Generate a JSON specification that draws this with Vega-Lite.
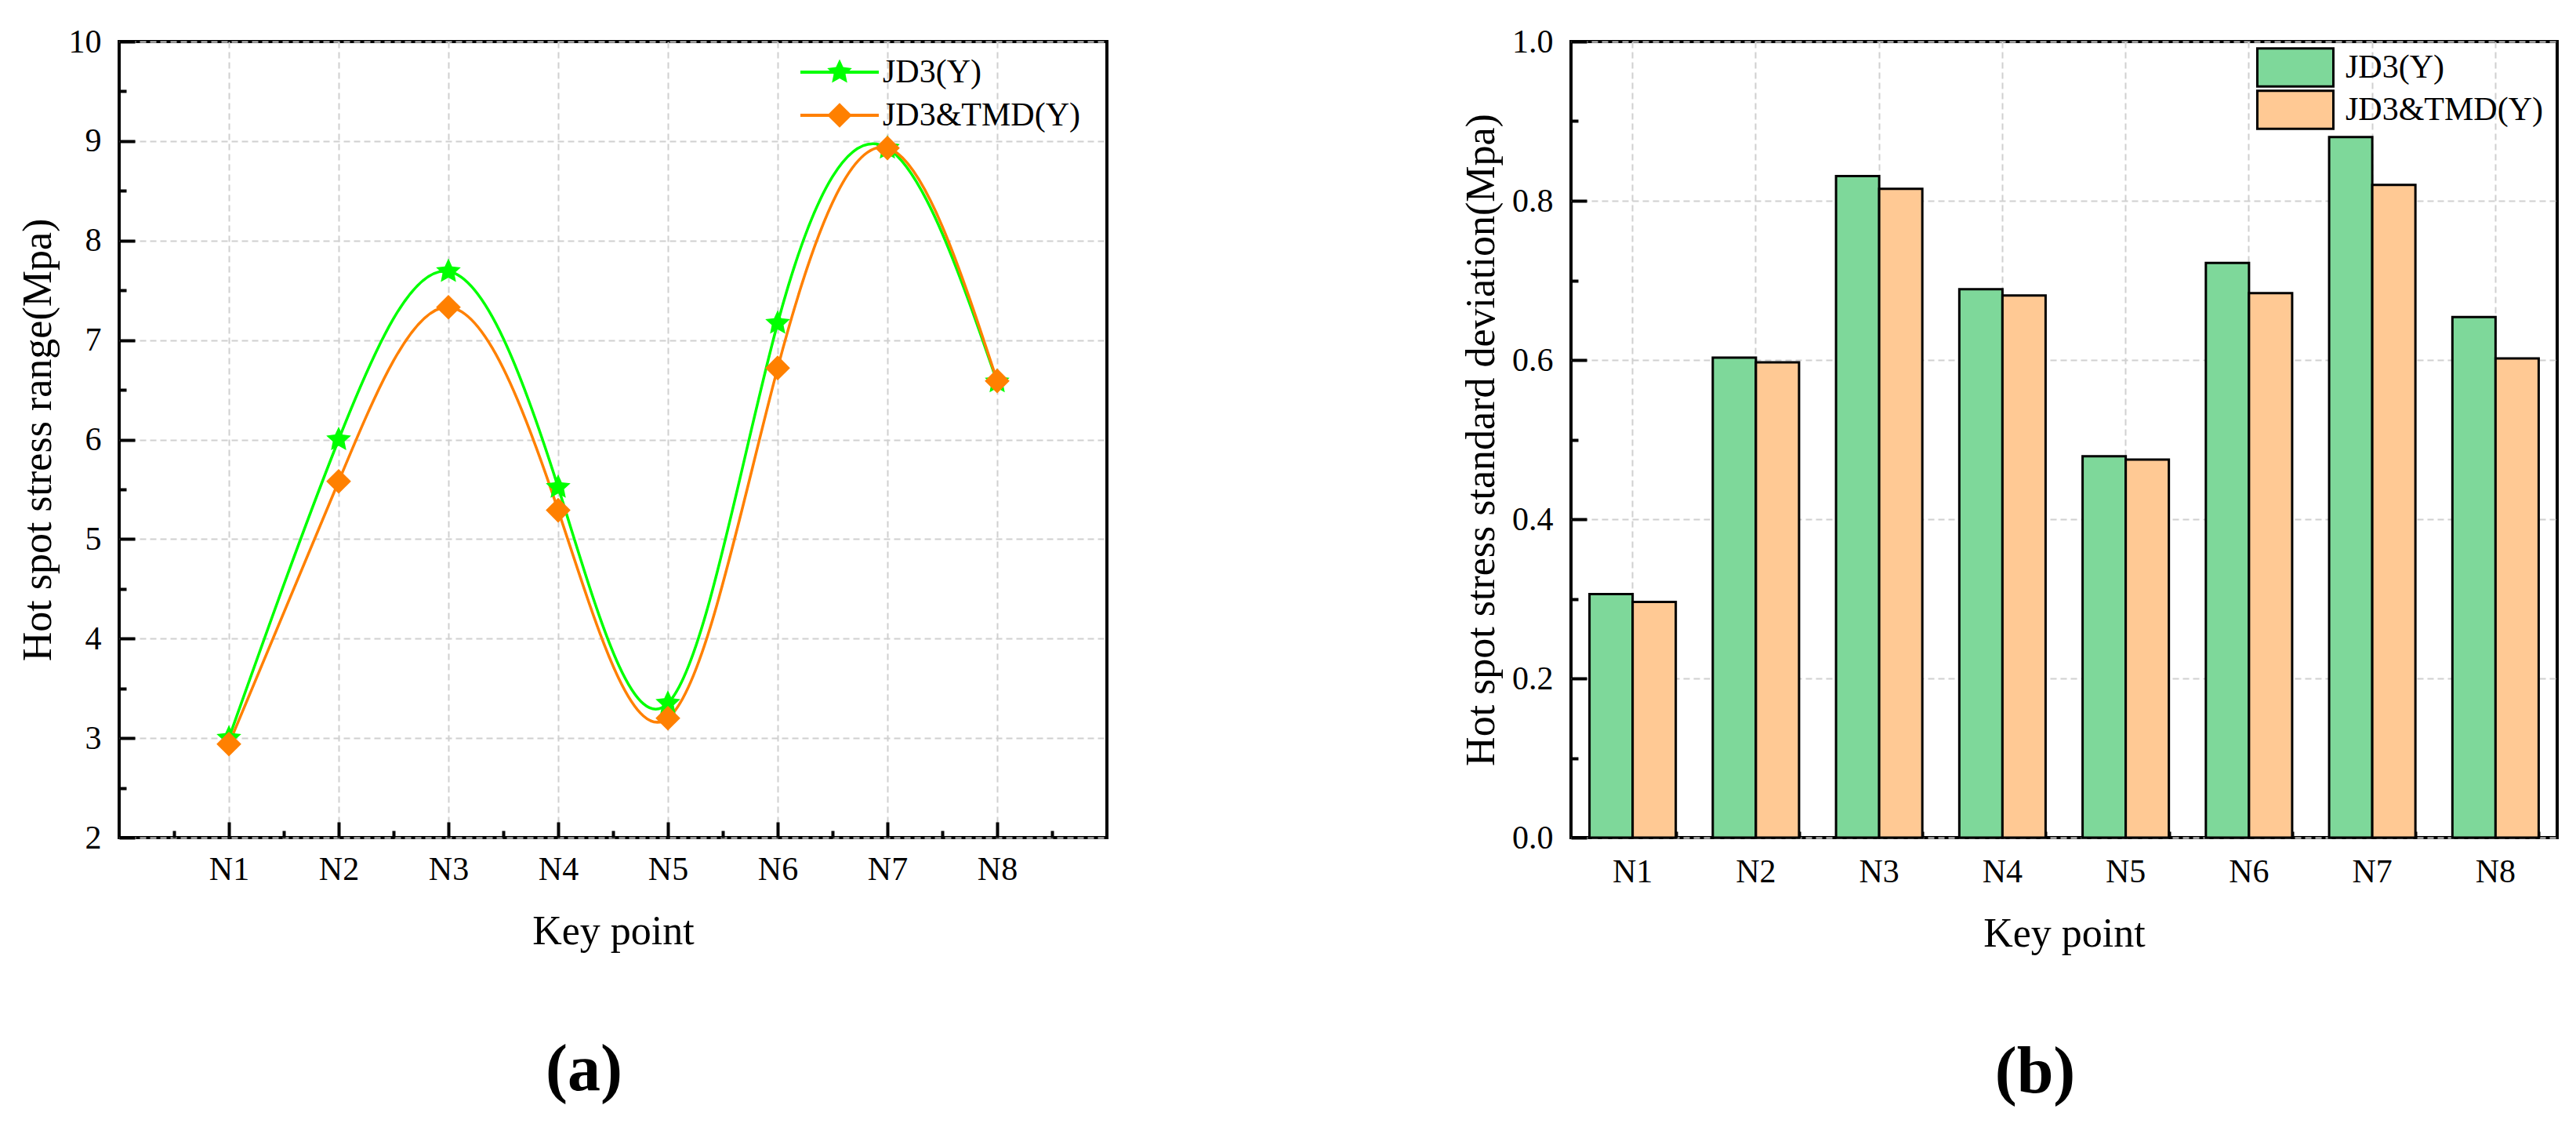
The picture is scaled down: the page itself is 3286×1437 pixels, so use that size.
{
  "$schema": "https://vega.github.io/schema/vega-lite/v6.json",
  "background": "white",
  "padding": {"left": 20, "top": 30, "right": 0, "bottom": 0},
  "spacing": 447,
  "resolve": {
    "scale": {"fill": "independent", "stroke": "independent", "shape": "independent", "y": "independent", "x": "independent"},
    "legend": {"fill": "independent", "stroke": "independent", "shape": "independent"}
  },
  "config": {
    "font": "Liberation Serif",
    "view": {"stroke": "black", "strokeWidth": 4},
    "axis": {
      "labelFont": "Liberation Serif", "titleFont": "Liberation Serif",
      "labelFontSize": 42, "titleFontSize": 52, "titleFontWeight": "normal",
      "labelColor": "black", "titleColor": "black", "domain": false,
      "tickColor": "black", "tickWidth": 4, "labelFlush": false,
      "gridColor": "#d0d0d0", "gridDash": [8, 5], "gridWidth": 2
    },
    "legend": {"labelFont": "Liberation Serif", "labelFontSize": 42, "labelColor": "black", "labelLimit": 0},
    "title": {"font": "Liberation Serif", "color": "black"}
  },
  "hconcat": [
    {
      "width": 1260,
      "height": 1015,
      "title": {"text": "(a)", "orient": "bottom", "anchor": "middle", "fontSize": 84, "fontWeight": "bold", "dx": -37, "offset": 111},
      "data": {
        "values": [
          {"idx": 1, "point": "N1", "series": "JD3(Y)", "order": 1, "value": 3.0},
          {"idx": 2, "point": "N2", "series": "JD3(Y)", "order": 1, "value": 6.0},
          {"idx": 3, "point": "N3", "series": "JD3(Y)", "order": 1, "value": 7.69},
          {"idx": 4, "point": "N4", "series": "JD3(Y)", "order": 1, "value": 5.52},
          {"idx": 5, "point": "N5", "series": "JD3(Y)", "order": 1, "value": 3.35},
          {"idx": 6, "point": "N6", "series": "JD3(Y)", "order": 1, "value": 7.17},
          {"idx": 7, "point": "N7", "series": "JD3(Y)", "order": 1, "value": 8.93},
          {"idx": 8, "point": "N8", "series": "JD3(Y)", "order": 1, "value": 6.58},
          {"idx": 1, "point": "N1", "series": "JD3&TMD(Y)", "order": 2, "value": 2.94},
          {"idx": 2, "point": "N2", "series": "JD3&TMD(Y)", "order": 2, "value": 5.58},
          {"idx": 3, "point": "N3", "series": "JD3&TMD(Y)", "order": 2, "value": 7.33},
          {"idx": 4, "point": "N4", "series": "JD3&TMD(Y)", "order": 2, "value": 5.29},
          {"idx": 5, "point": "N5", "series": "JD3&TMD(Y)", "order": 2, "value": 3.2},
          {"idx": 6, "point": "N6", "series": "JD3&TMD(Y)", "order": 2, "value": 6.72},
          {"idx": 7, "point": "N7", "series": "JD3&TMD(Y)", "order": 2, "value": 8.93},
          {"idx": 8, "point": "N8", "series": "JD3&TMD(Y)", "order": 2, "value": 6.59}
        ]
      },
      "layer": [
        {
          "mark": {"type": "line", "interpolate": "natural", "strokeWidth": 3.5},
          "encoding": {
            "x": {
              "field": "idx", "type": "quantitative",
              "scale": {"domain": [0, 9], "nice": false, "zero": false},
              "axis": {"orient": "bottom", "values": [1, 2, 3, 4, 5, 6, 7, 8], "labelExpr": "'N' + datum.value", "title": "Key point", "tickSize": -20, "labelPadding": 40, "titlePadding": 33, "grid": true}
            },
            "y": {
              "field": "value", "type": "quantitative",
              "scale": {"domain": [2, 10], "nice": false, "zero": false},
              "axis": {"orient": "left", "values": [2, 3, 4, 5, 6, 7, 8, 9, 10], "title": "Hot spot stress range(Mpa)", "tickSize": -20, "labelPadding": 43, "titlePadding": 12, "grid": true}
            },
            "stroke": {
              "field": "series", "type": "nominal",
              "scale": {"domain": ["JD3(Y)", "JD3&TMD(Y)"], "range": ["#00FF00", "#FF8000"]},
              "legend": {"orient": "none", "direction": "vertical", "legendX": 867, "legendY": 14, "title": null, "symbolType": "M-1,0H1", "symbolSize": 10000, "symbolStrokeWidth": 4, "clipHeight": 50, "rowPadding": 5, "labelExpr": "''"}
            }
          }
        },
        {
          "mark": {"type": "point", "filled": true, "size": 1000, "opacity": 1, "strokeWidth": 0},
          "encoding": {
            "x": {
              "field": "idx", "type": "quantitative",
              "scale": {"domain": [0, 9], "nice": false, "zero": false},
              "axis": {"orient": "bottom", "values": [0.5, 1.5, 2.5, 3.5, 4.5, 5.5, 6.5, 7.5, 8.5], "labels": false, "title": null, "tickSize": -9, "grid": false}
            },
            "y": {
              "field": "value", "type": "quantitative",
              "scale": {"domain": [2, 10], "nice": false, "zero": false},
              "axis": {"orient": "left", "values": [2.5, 3.5, 4.5, 5.5, 6.5, 7.5, 8.5, 9.5], "labels": false, "title": null, "tickSize": -9, "grid": false}
            },
            "fill": {
              "field": "series", "type": "nominal", "sort": {"field": "order", "op": "min"},
              "scale": {"range": ["#00FF00", "#FF8000"]},
              "legend": {"orient": "none", "direction": "vertical", "legendX": 867, "legendY": 14, "title": null, "symbolSize": 1000, "clipHeight": 50, "rowPadding": 5, "symbolOffset": 31, "labelOffset": 34}
            },
            "shape": {
              "field": "series", "type": "nominal", "sort": {"field": "order", "op": "min"},
              "scale": {"range": ["M0,-1.05L0.294,-0.405L0.999,-0.324L0.476,0.155L0.617,0.849L0,0.5L-0.617,0.849L-0.476,0.155L-0.999,-0.324L-0.294,-0.405Z", "diamond"]},
              "legend": {"orient": "none", "direction": "vertical", "legendX": 867, "legendY": 14, "title": null, "symbolSize": 1000, "clipHeight": 50, "rowPadding": 5, "symbolOffset": 31, "labelOffset": 34}
            }
          }
        }
      ],
      "resolve": {"axis": {"x": "independent", "y": "independent"}}
    },
    {
      "width": 1258,
      "height": 1015,
      "title": {"text": "(b)", "orient": "bottom", "anchor": "middle", "fontSize": 84, "fontWeight": "bold", "dx": -37, "offset": 111},
      "data": {
        "values": [
          {"point": "N1", "series": "JD3(Y)", "value": 0.306},
          {"point": "N2", "series": "JD3(Y)", "value": 0.603},
          {"point": "N3", "series": "JD3(Y)", "value": 0.831},
          {"point": "N4", "series": "JD3(Y)", "value": 0.689},
          {"point": "N5", "series": "JD3(Y)", "value": 0.479},
          {"point": "N6", "series": "JD3(Y)", "value": 0.722},
          {"point": "N7", "series": "JD3(Y)", "value": 0.880},
          {"point": "N8", "series": "JD3(Y)", "value": 0.654},
          {"point": "N1", "series": "JD3&TMD(Y)", "value": 0.296},
          {"point": "N2", "series": "JD3&TMD(Y)", "value": 0.597},
          {"point": "N3", "series": "JD3&TMD(Y)", "value": 0.815},
          {"point": "N4", "series": "JD3&TMD(Y)", "value": 0.681},
          {"point": "N5", "series": "JD3&TMD(Y)", "value": 0.475},
          {"point": "N6", "series": "JD3&TMD(Y)", "value": 0.684},
          {"point": "N7", "series": "JD3&TMD(Y)", "value": 0.820},
          {"point": "N8", "series": "JD3&TMD(Y)", "value": 0.602}
        ]
      },
      "layer": [
        {
          "transform": [{"filter": "datum.series === 'JD3(Y)'"}],
          "mark": {"type": "bar", "stroke": "black", "strokeWidth": 3},
          "encoding": {
            "x": {
              "field": "point", "type": "nominal",
              "scale": {"paddingInner": 0.3, "paddingOuter": 0.15},
              "axis": {"orient": "bottom", "labelAngle": 0, "title": "Key point", "tickSize": -17, "labelPadding": 40, "titlePadding": 33, "grid": true}
            },
            "xOffset": {"field": "series", "type": "nominal", "scale": {"domain": ["JD3(Y)", "JD3&TMD(Y)"], "paddingInner": 0, "paddingOuter": 0}},
            "y": {
              "field": "value", "type": "quantitative",
              "scale": {"domain": [0, 1], "nice": false, "zero": true},
              "axis": {"orient": "left", "values": [0, 0.2, 0.4, 0.6, 0.8, 1.0], "format": ".1f", "title": "Hot spot stress standard deviation(Mpa)", "tickSize": -20, "labelPadding": 43, "titlePadding": 12, "grid": true}
            },
            "fill": {
              "field": "series", "type": "nominal",
              "scale": {"domain": ["JD3(Y)", "JD3&TMD(Y)"], "range": ["#7ED89A", "#FFC994"]},
              "legend": {"orient": "none", "direction": "vertical", "legendX": 874, "legendY": 7, "title": null, "symbolType": "M-1,-0.5H1V0.5H-1Z", "symbolSize": 9409, "symbolStrokeColor": "black", "symbolStrokeWidth": 3, "clipHeight": 52, "rowPadding": 2, "labelOffset": 14}
            }
          }
        },
        {
          "transform": [{"filter": "datum.series === 'JD3&TMD(Y)'"}],
          "mark": {"type": "bar", "stroke": "black", "strokeWidth": 3},
          "encoding": {
            "x": {
              "field": "point", "type": "nominal",
              "scale": {"paddingInner": 0.3, "paddingOuter": 0.15},
              "axis": {"orient": "bottom", "tickBand": "extent", "labels": false, "title": null, "tickSize": -8, "grid": false}
            },
            "xOffset": {"field": "series", "type": "nominal", "scale": {"domain": ["JD3(Y)", "JD3&TMD(Y)"], "paddingInner": 0, "paddingOuter": 0}},
            "y": {
              "field": "value", "type": "quantitative",
              "scale": {"domain": [0, 1], "nice": false, "zero": true},
              "axis": {"orient": "left", "values": [0.1, 0.3, 0.5, 0.7, 0.9], "labels": false, "title": null, "tickSize": -9, "grid": false}
            },
            "fill": {
              "field": "series", "type": "nominal",
              "scale": {"domain": ["JD3(Y)", "JD3&TMD(Y)"], "range": ["#7ED89A", "#FFC994"]},
              "legend": {"orient": "none", "direction": "vertical", "legendX": 874, "legendY": 7, "title": null, "symbolType": "M-1,-0.5H1V0.5H-1Z", "symbolSize": 9409, "symbolStrokeColor": "black", "symbolStrokeWidth": 3, "clipHeight": 52, "rowPadding": 2, "labelOffset": 14}
            }
          }
        }
      ],
      "resolve": {"axis": {"x": "independent", "y": "independent"}}
    }
  ]
}
